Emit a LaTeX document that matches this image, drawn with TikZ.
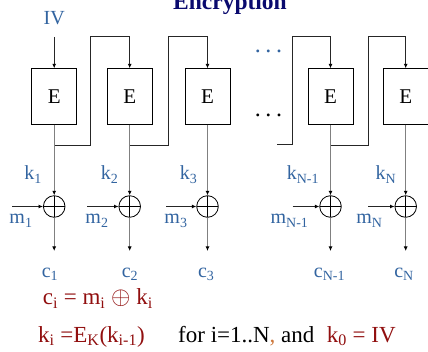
\documentclass[tikz,border=0pt]{standalone}
\usepackage{fontspec}
\setmainfont{Liberation Serif}
\usetikzlibrary{arrows.meta}
\definecolor{lblue}{RGB}{50,100,160}
\definecolor{dred}{RGB}{145,15,15}
\definecolor{navy}{RGB}{10,10,110}
\definecolor{commac}{RGB}{205,120,60}
\begin{document}
\begin{tikzpicture}[x=1pt,y=-1pt,
  ebox/.style={draw=black,line width=0.8pt,minimum width=45pt,minimum height=55.5pt,inner sep=0pt,font=\fontsize{21}{21}\selectfont},
  xorc/.style={draw=black,line width=0.8pt,circle,minimum size=21.6pt,inner sep=0pt,
     path picture={\draw[black,line width=0.8pt] (path picture bounding box.north) -- (path picture bounding box.south) (path picture bounding box.west) -- (path picture bounding box.east);}},
  lbl/.style={anchor=base,text=lblue,inner sep=0pt,font=\fontsize{20}{20}\selectfont},
  kline/.style={draw=black!50,line width=1.3pt},
  fb/.style={draw=black!85,line width=0.9pt},
  arr/.style={-{Latex[length=4.5pt,width=4pt,color=black]}},
  dotsn/.style={anchor=base,inner sep=0pt,font=\fontsize{24}{24}\selectfont},
  frm/.style={anchor=base west,inner sep=0pt,font=\fontsize{23}{23}\selectfont}
]
\useasboundingbox (0,0) rectangle (428,352);

% title
\node[anchor=base,inner sep=0pt,text=navy,font=\fontsize{23.5}{23.5}\selectfont\bfseries] (title) at (230,10) {Encryption};

% boxes
\node[ebox] (b1) at (54.2,96.5) {E};
\node[ebox] (b2) at (129.7,96.5) {E};
\node[ebox] (b3) at (207.5,96.5) {E};
\node[ebox] (b4) at (330.5,96.5) {E};
\node[ebox] (b5) at (405.7,96.5) {E};

% xors
\node[xorc] (x1) at (54.2,206.5) {};
\node[xorc] (x2) at (129.7,206.5) {};
\node[xorc] (x3) at (207.5,206.5) {};
\node[xorc] (x4) at (330.5,206.5) {};
\node[xorc] (x5) at (405.7,206.5) {};

% IV
\node[lbl] (iv) at (54.2,25) {IV};
\coordinate (ivs) at (54.2,37);
\draw[fb,arr] (ivs) -- (b1.north);

% junctions on the key lines
\coordinate (j1) at (54.2,145);
\coordinate (j2) at (129.7,145);
\coordinate (j4) at (330.5,145);
\coordinate (jd) at (277,144.5);

% feedback lines
\draw[fb,arr] (j1) -| (90,36) -| (b2.north);
\draw[fb,arr] (j2) -| (168,36) -| (b3.north);
\draw[fb,arr] (jd) -| (292.7,36) -| (b4.north);
\draw[fb,arr] (j4) -| (368.7,36) -| (b5.north);

% key lines into xors
\foreach \i in {1,...,5}{
  \draw[kline,arr] (b\i.south) -- (x\i.north);
}

% outputs
\coordinate (e1) at (54.2,251);
\coordinate (e2) at (129.7,251);
\coordinate (e3) at (207.5,251);
\coordinate (e4) at (330.5,251);
\coordinate (e5) at (405.7,251);
\foreach \i in {1,...,5}{
  \draw[kline,arr] (x\i.south) -- (e\i);
}

% message inputs
\coordinate (ms1) at (12,206.5);
\coordinate (ms2) at (87,206.5);
\coordinate (ms3) at (166,206.5);
\coordinate (ms4) at (292.7,206.5);
\coordinate (ms5) at (368,206.5);
\foreach \i in {1,...,5}{
  \draw[fb,arr] (ms\i) -- (x\i.west);
}

% labels k
\node[lbl] (k1) at (33,180) {k\textsubscript{1}};
\node[lbl] (k2) at (109.7,180) {k\textsubscript{2}};
\node[lbl] (k3) at (188.7,180) {k\textsubscript{3}};
\node[lbl] (k4) at (303,180) {k\textsubscript{N-1}};
\node[lbl] (k5) at (386,180) {k\textsubscript{N}};
% labels m
\node[lbl] (m1) at (21,224) {m\textsubscript{1}};
\node[lbl] (m2) at (97,224) {m\textsubscript{2}};
\node[lbl] (m3) at (176,224) {m\textsubscript{3}};
\node[lbl] (m4) at (289.5,224) {m\textsubscript{N-1}};
\node[lbl] (m5) at (369.5,224) {m\textsubscript{N}};
% labels c
\node[lbl] (c1) at (50,277.5) {c\textsubscript{1}};
\node[lbl] (c2) at (130,277.5) {c\textsubscript{2}};
\node[lbl] (c3) at (206.3,277.5) {c\textsubscript{3}};
\node[lbl] (c4) at (329.5,277.5) {c\textsubscript{N-1}};
\node[lbl] (c5) at (404,277.5) {c\textsubscript{N}};

% dots
\node[dotsn,text=lblue] (d1) at (268.5,53) {.\hskip4.7pt.\hskip4.7pt.};
\node[dotsn,text=black] (d2) at (268.5,116.3) {.\hskip4.7pt.\hskip4.7pt.};

% formulas
\node[frm,text=dred] (f1) at (42.7,305) {c\textsubscript{i} = m\textsubscript{i} $\oplus$ k\textsubscript{i}};
\node[frm,text=dred] (f2) at (38,342) {k\textsubscript{i} =E\textsubscript{K}(k\textsubscript{i-1})};
\node[frm,text=black] (f3) at (178,342) {for i=1..N\textcolor{commac}{,} and};
\node[frm,text=dred] (f4) at (326.7,342) {k\textsubscript{0} = IV};
\end{tikzpicture}
\end{document}
